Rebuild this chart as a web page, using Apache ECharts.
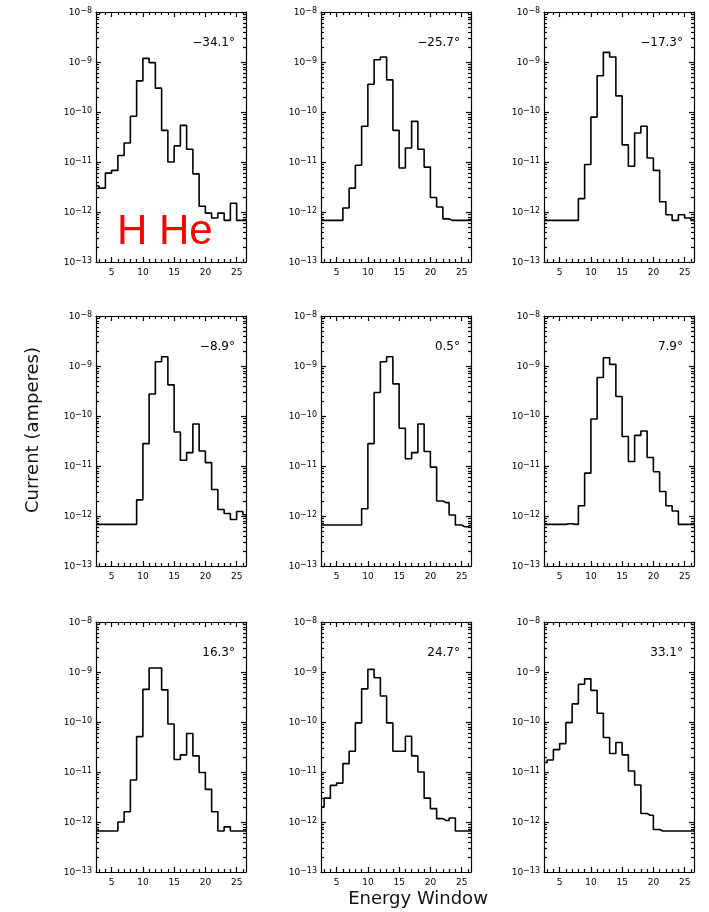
<!DOCTYPE html>
<html><head><meta charset="utf-8">
<script src="https://cdn.jsdelivr.net/npm/echarts@6/dist/echarts.min.js"></script>
<style>html,body{margin:0;padding:0;background:#fff}#c{width:709px;height:912px}</style>
</head><body><div id="c"></div>
<script>
// ---- data ----
const energyWindow = [2.5,3.5,4.5,5.5,6.5,7.5,8.5,9.5,10.5,11.5,12.5,13.5,14.5,15.5,16.5,17.5,18.5,19.5,20.5,21.5,22.5,23.5,24.5,25.5,26.5];
const angleLabels = ['\u221234.1\u00b0','\u221225.7\u00b0','\u221217.3\u00b0','\u22128.9\u00b0','0.5\u00b0','7.9\u00b0','16.3\u00b0','24.7\u00b0','33.1\u00b0'];
const iMinus34_1 = [3.3e-12,3.0e-12,6.0e-12,6.8e-12,1.35e-11,2.4e-11,8.2e-11,4.2e-10,1.18e-9,9.7e-10,3.0e-10,4.3e-11,1.0e-11,2.1e-11,5.4e-11,1.8e-11,5.8e-12,1.3e-12,9.5e-13,7.6e-13,9.5e-13,6.8e-13,1.5e-12,6.8e-13,6.8e-13];
const iMinus25_7 = [6.8e-13,6.8e-13,6.8e-13,6.8e-13,1.2e-12,3.0e-12,8.6e-12,5.2e-11,3.6e-10,1.11e-9,1.26e-9,4.4e-10,4.3e-11,7.6e-12,1.9e-11,6.5e-11,1.8e-11,7.9e-12,1.95e-12,1.26e-12,7.3e-13,6.8e-13,6.8e-13,6.8e-13,6.8e-13];
const iMinus17_3 = [6.8e-13,6.8e-13,6.8e-13,6.8e-13,6.8e-13,6.8e-13,1.85e-12,8.9e-12,7.9e-11,5.3e-10,1.56e-9,1.26e-9,2.1e-10,2.2e-11,8.2e-12,3.8e-11,5.2e-11,1.2e-11,6.8e-12,1.6e-12,8.8e-13,6.8e-13,8.8e-13,7.6e-13,6.8e-13];
const iMinus8_9 = [6.8e-13,6.8e-13,6.8e-13,6.8e-13,6.8e-13,6.8e-13,6.8e-13,2.1e-12,2.8e-11,2.75e-10,1.22e-9,1.53e-9,4.2e-10,4.8e-11,1.3e-11,1.85e-11,6.9e-11,2.0e-11,1.17e-11,3.4e-12,1.35e-12,1.12e-12,8.5e-13,1.23e-12,1.06e-12];
const iPlus0_5 = [6.6e-13,6.6e-13,6.6e-13,6.6e-13,6.6e-13,6.6e-13,6.6e-13,1.4e-12,2.8e-11,2.95e-10,1.22e-9,1.53e-9,4.4e-10,5.7e-11,1.4e-11,1.85e-11,6.9e-11,1.95e-11,9.5e-12,2.0e-12,1.85e-12,1.05e-12,6.6e-13,6.1e-13,6.6e-13];
const iPlus7_9 = [6.8e-13,6.8e-13,6.8e-13,6.8e-13,7.0e-13,6.8e-13,1.6e-12,7.2e-12,8.7e-11,5.9e-10,1.46e-9,1.08e-9,2.46e-10,3.9e-11,1.23e-11,4.1e-11,5.0e-11,1.48e-11,7.7e-12,3.1e-12,1.6e-12,1.26e-12,6.8e-13,6.8e-13,6.8e-13];
const iPlus16_3 = [6.6e-13,6.6e-13,6.6e-13,6.6e-13,1.0e-12,1.6e-12,6.9e-12,5.1e-11,4.5e-10,1.2e-9,1.2e-9,4.4e-10,9.1e-11,1.78e-11,2.2e-11,5.9e-11,2.1e-11,9.8e-12,4.5e-12,1.6e-12,6.6e-13,8.0e-13,6.6e-13,6.6e-13,6.6e-13];
const iPlus24_7 = [2.0e-12,3.0e-12,5.4e-12,6.0e-12,1.47e-11,2.6e-11,9.6e-11,4.6e-10,1.13e-9,7.7e-10,3.3e-10,9.6e-11,2.6e-11,2.6e-11,5.2e-11,2.1e-11,1.0e-11,3.0e-12,1.85e-12,1.17e-12,1.07e-12,1.2e-12,6.6e-13,6.6e-13,6.6e-13];
const iPlus33_1 = [1.55e-11,1.74e-11,2.8e-11,3.7e-11,9.7e-11,2.3e-10,5.7e-10,7.3e-10,4.3e-10,1.5e-10,4.9e-11,2.35e-11,3.9e-11,2.2e-11,1.05e-11,5.5e-12,1.48e-12,1.36e-12,7.1e-13,6.6e-13,6.6e-13,6.6e-13,6.6e-13,6.6e-13,6.6e-13];
const panelSeries = [iMinus34_1,iMinus25_7,iMinus17_3,iMinus8_9,iPlus0_5,iPlus7_9,iPlus16_3,iPlus24_7,iPlus33_1];
const xTickLabels = [5,10,15,20,25];
const xMinorTicks = [3,4,6,7,8,9,11,12,13,14,16,17,18,19,21,22,23,24,26];
const yTickValues = [1e-13,1e-12,1e-11,1e-10,1e-9,1e-8];
const X_MIN = 2.5, X_MAX = 26.5;
const Y_MIN = 1e-13, Y_MAX = 1e-8;

// ---- layout ----
const colLeft = [96, 321, 544];
const rowTop = [12, 316, 622];
const PW = 150, PH = 250;
const FONT = 'DejaVu Sans';
const tickLine = {color:'#000', width:1.2};
const frame = {color:'#000', width:1.2};

const yMinorTicks = [];
yTickValues.slice(0, -1).forEach(d => { for (let m = 2; m <= 9; m++) yMinorTicks.push(m * d); });

const grid = [], xAxis = [], yAxis = [], series = [], graphic = [];
const T = (len, cv) => ({show:true, inside:true, length:len, customValues:cv, lineStyle:tickLine});
panelSeries.forEach((vals, p) => {
  const left = colLeft[p % 3], top = rowTop[Math.floor(p / 3)];
  grid.push({left:left, top:top, width:PW, height:PH});
  const xc = {gridIndex:p, type:'value', min:X_MIN, max:X_MAX, splitLine:{show:false}};
  const yc = {gridIndex:p, type:'log', logBase:10, min:Y_MIN, max:Y_MAX, splitLine:{show:false}};
  xAxis.push(Object.assign({}, xc, {position:'bottom', axisLine:{show:true, onZero:false, lineStyle:frame},
    axisTick:T(5, xTickLabels),
    axisLabel:{show:true, customValues:xTickLabels, margin:6, color:'#000', fontSize:9, fontFamily:FONT}}));
  xAxis.push(Object.assign({}, xc, {position:'top', axisLine:{show:true, onZero:false, lineStyle:frame},
    axisTick:T(5, xTickLabels), axisLabel:{show:false}}));
  xAxis.push(Object.assign({}, xc, {position:'bottom', axisLine:{show:false, onZero:false},
    axisTick:T(3, xMinorTicks), axisLabel:{show:false}}));
  xAxis.push(Object.assign({}, xc, {position:'top', axisLine:{show:false, onZero:false},
    axisTick:T(3, xMinorTicks), axisLabel:{show:false}}));
  yAxis.push(Object.assign({}, yc, {position:'left', axisLine:{show:true, onZero:false, lineStyle:frame},
    axisTick:T(5, yTickValues),
    axisLabel:{show:true, margin:4, customValues:yTickValues,
      formatter: v => '{b|10}{s|\u2212' + Math.abs(Math.round(Math.log10(v))) + '}',
      rich:{b:{fontSize:9, fontFamily:FONT, color:'#000', lineHeight:11, verticalAlign:'bottom'},
            s:{fontSize:8, fontFamily:FONT, color:'#000', lineHeight:11, verticalAlign:'top'}}}}));
  yAxis.push(Object.assign({}, yc, {position:'right', axisLine:{show:true, onZero:false, lineStyle:frame},
    axisTick:T(5, yTickValues), axisLabel:{show:false}}));
  yAxis.push(Object.assign({}, yc, {position:'left', axisLine:{show:false, onZero:false},
    axisTick:T(3, yMinorTicks), axisLabel:{show:false}}));
  yAxis.push(Object.assign({}, yc, {position:'right', axisLine:{show:false, onZero:false},
    axisTick:T(3, yMinorTicks), axisLabel:{show:false}}));
  // data axes (same scales, not drawn)
  xAxis.push(Object.assign({}, xc, {show:false}));
  yAxis.push(Object.assign({}, yc, {show:false}));
  series.push({type:'line', xAxisIndex:xAxis.length - 1, yAxisIndex:yAxis.length - 1, step:'middle',
    symbol:'none', showSymbol:false, clip:true, lineStyle:{color:'#000', width:1.6},
    data: energyWindow.map((w, i) => [w, vals[i]])});
  graphic.push({type:'text', x:left + PW - 11, y:top + 31,
    style:{text:angleLabels[p], fill:'#000', font:'12px ' + FONT, textAlign:'right', textVerticalAlign:'middle'}});
});
graphic.push({type:'text', x:117, y:232,
  style:{text:'H He', fill:'#ff0000', font:'42px "Liberation Sans", Arial, sans-serif', textAlign:'left', textVerticalAlign:'middle'}});
graphic.push({type:'text', x:33, y:430, rotation:Math.PI/2,
  style:{text:'Current (amperes)', fill:'#111', font:'18px ' + FONT, textAlign:'center', textVerticalAlign:'middle'}});
graphic.push({type:'text', x:418, y:899,
  style:{text:'Energy Window', fill:'#111', font:'18px ' + FONT, textAlign:'center', textVerticalAlign:'middle'}});

const chart = echarts.init(document.getElementById('c'), null, {renderer:'canvas'});
chart.setOption({backgroundColor:'#fff', animation:false, grid, xAxis, yAxis, series, graphic});
</script></body></html>
